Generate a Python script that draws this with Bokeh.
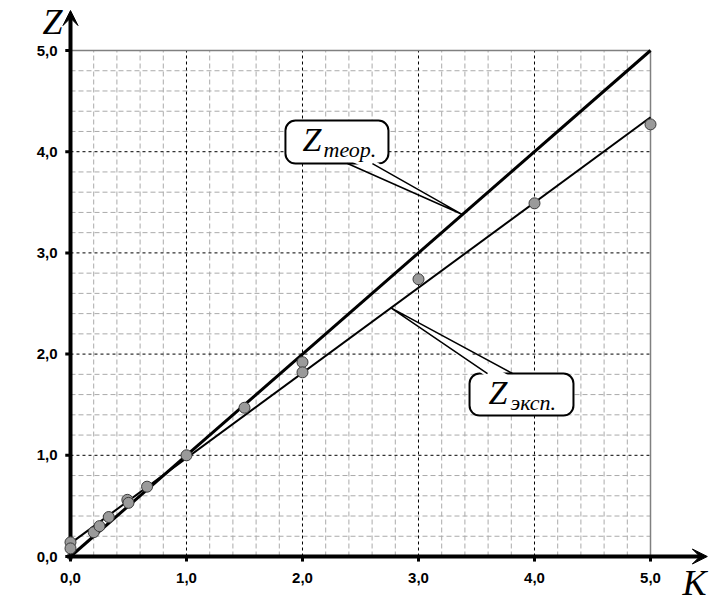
import numpy as np
from bokeh.plotting import figure
from bokeh.models import Range1d, Label, Arrow, VeeHead
from bokeh.core.properties import value
from bokeh.embed import file_html
from bokeh.resources import INLINE

# ---- data ----
k_exp = [0.0, 0.0, 0.2, 0.25, 0.33, 0.49, 0.5, 0.66, 1.0, 1.5, 2.0, 2.0, 3.0, 4.0, 5.0]
z_exp = [0.14, 0.08, 0.24, 0.30, 0.39, 0.56, 0.53, 0.69, 1.0, 1.47, 1.92, 1.82, 2.74, 3.49, 4.27]
k_line = [0.0, 5.0]
z_theor = [0.0, 5.0]
z_exp_fit = [0.13, 4.34]
k_ticks = [0, 1, 2, 3, 4, 5]
z_ticks = [0, 1, 2, 3, 4, 5]
minor_step = 0.2

lim = 5.0
minor_vals = [round(float(v), 1) for v in np.arange(minor_step, lim, minor_step)
              if abs(v - round(v)) > 1e-6]
major_vals = [v for v in k_ticks if 0 < v < lim]
k_tick_labels = [f"{v:.1f}".replace(".", ",") for v in k_ticks]
z_tick_labels = [f"{v:.1f}".replace(".", ",") for v in z_ticks]

p = figure(width=723, height=613, output_backend="svg", toolbar_location=None,
           x_range=Range1d(-0.6034, 5.6293), y_range=Range1d(-0.5632, 5.4941))
p.min_border = 0
p.outline_line_color = None
p.xaxis.visible = False
p.yaxis.visible = False
p.xgrid.visible = False
p.ygrid.visible = False
p.background_fill_color = "white"
p.border_fill_color = "white"

# grid
p.segment(x0=minor_vals, y0=0, x1=minor_vals, y1=lim, line_color="#aaaaaa",
          line_width=1, line_dash="5 3")
p.segment(x0=0, y0=minor_vals, x1=lim, y1=minor_vals, line_color="#aaaaaa",
          line_width=1, line_dash="5 3")
p.segment(x0=major_vals, y0=0, x1=major_vals, y1=lim, line_color="black",
          line_width=1, line_dash="3 3")
p.segment(x0=0, y0=major_vals, x1=lim, y1=major_vals, line_color="black",
          line_width=1, line_dash="3 3")
p.segment(x0=[lim, 0], y0=[0, lim], x1=[lim, lim], y1=[lim, lim],
          line_color="#808080", line_width=1.5)

# axes lines + ticks
p.segment(x0=[0, -0.03], y0=[-0.03, 0], x1=[0, 5.43], y1=[5.34, 0],
          line_color="black", line_width=4)
p.segment(x0=-0.045, y0=z_ticks, x1=0, y1=z_ticks, line_color="black", line_width=3)
p.segment(x0=k_ticks, y0=0, x1=k_ticks, y1=-0.05, line_color="black", line_width=3)
p.add_layout(Arrow(end=VeeHead(size=15, fill_color="black", line_color="black"),
                   x_start=0, y_start=5.2, x_end=0, y_end=5.395, line_alpha=0))
p.add_layout(Arrow(end=VeeHead(size=15, fill_color="black", line_color="black"),
                   x_start=5.3, y_start=0, x_end=5.49, y_end=0, line_alpha=0))

# tick labels
p.text(x=-0.112, y=z_ticks, text=z_tick_labels, text_font=value("Liberation Sans"),
       text_font_style="bold", text_font_size=value("15px"), text_color="black",
       text_align="right", text_baseline="middle")
p.text(x=k_ticks, y=-0.16, text=k_tick_labels, text_font=value("Liberation Sans"),
       text_font_style="bold", text_font_size=value("15px"), text_color="black",
       text_align="center", text_baseline="top")

# lines and points
p.line(k_line, z_theor, line_color="black", line_width=3)
p.line(k_line, z_exp_fit, line_color="black", line_width=2)
p.scatter(k_exp, z_exp, size=11, fill_color="#9a9a9a", line_color="#3a3a3a",
          line_width=1)

# callouts
def bubble(x0, x1, yb, yt, b1, b2, by, tip):
    p.quad(left=x0, right=x1, bottom=yb, top=yt, fill_color="white",
           line_color="black", line_width=2, border_radius=10)
    d = 0.04 if by == yb else -0.04
    p.patch([b1, tip[0], b2], [by + d, tip[1], by + d], fill_color="white",
            line_color=None)
    p.line([b1, tip[0], b2], [by, tip[1], by], line_color="black", line_width=1.5)

bubble(1.853, 2.741, 3.883, 4.308, 2.388, 2.603, 3.883, (3.379, 3.379))
bubble(3.440, 4.336, 1.393, 1.808, 3.595, 3.810, 1.808, (2.759, 2.460))

dy = 0.10  # baseline correction
def lab(x, y, t, size):
    p.add_layout(Label(x=x, y=y + dy, text=t, text_font="Liberation Serif",
                       text_font_style="italic", text_font_size=size,
                       text_baseline="alphabetic", text_align="left",
                       text_color="black"))

lab(2.0, 4.022, "Z", "34px")
lab(2.181, 3.923, "теор.", "22px")
lab(3.603, 1.522, "Z", "34px")
lab(3.793, 1.423, "эксп.", "22px")
lab(-0.241, 5.178, "Z", "36px")
lab(5.276, -0.366, "K", "36px")

open("out.html", "w").write(file_html(p, INLINE))
